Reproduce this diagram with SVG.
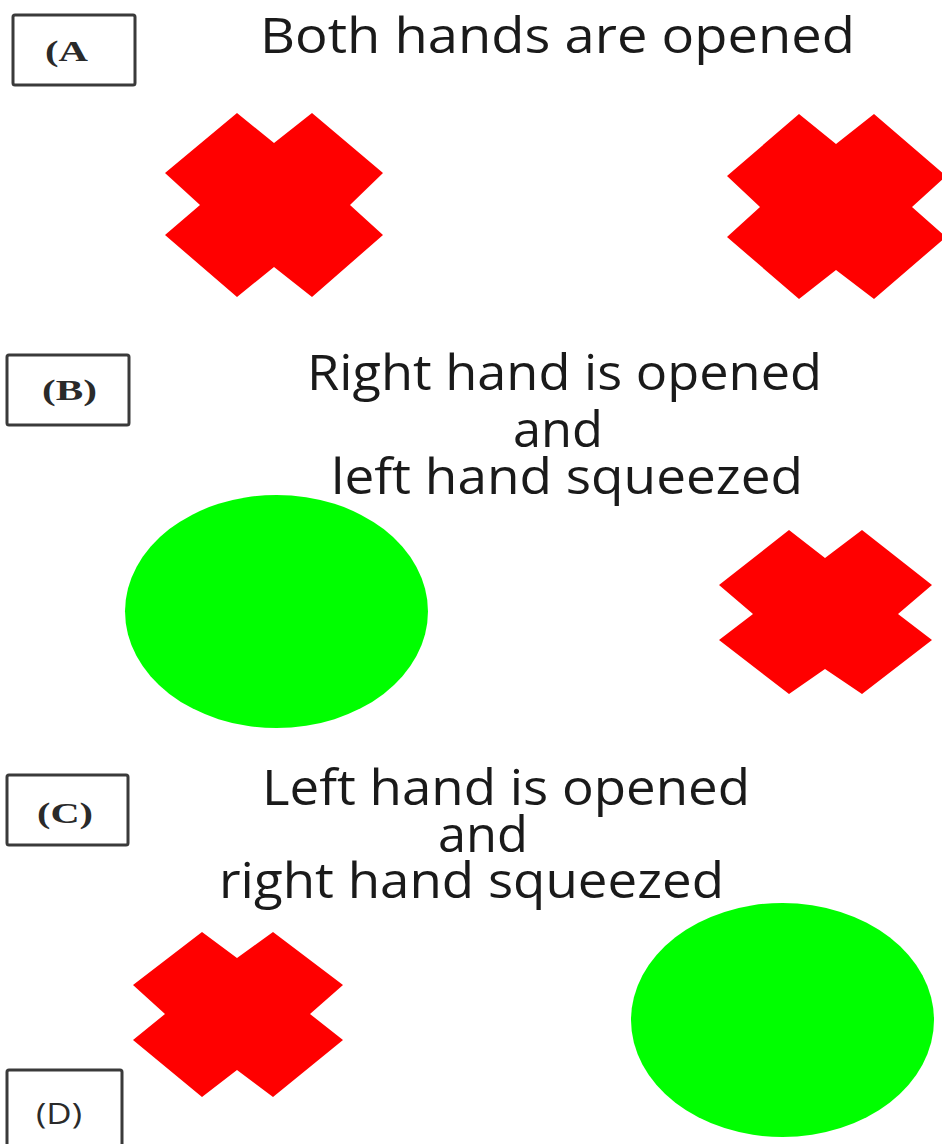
<svg xmlns="http://www.w3.org/2000/svg" width="942" height="1144" viewBox="0 0 942 1144">
  <style>
    .tag { fill: #ffffff; stroke: #3a3a3a; stroke-width: 3; }
    .tagtxt { font-family: "Liberation Serif", serif; font-weight: bold; font-size: 29px; fill: #2a2a2a; }
    .tagsans { font-family: "Open Sans", "Liberation Sans", sans-serif; font-size: 30px; fill: #2a2a2a; }
    .caption { font-family: "Open Sans", "Liberation Sans", sans-serif; font-size: 50px; font-weight: 500; fill: #1a1a1a; }
    .opened { fill: #ff0000; }
    .squeezed { fill: #00ff00; }
  </style>
  <rect width="942" height="1144" fill="#ffffff"/>

  <!-- Panel A: both hands open -->
  <g id="label-a">
    <rect class="tag" x="13" y="15" width="122" height="70" rx="2"/>
    <text class="tagtxt" x="45" y="61" textLength="43" lengthAdjust="spacingAndGlyphs">(A</text>
  </g>
  <g id="title-a">
    <text class="caption" x="260" y="53" textLength="595" lengthAdjust="spacingAndGlyphs">Both hands are opened</text>
  </g>
  <g id="left-hand-a">
    <polygon class="opened" points="237,113 274,143 312,113 383,173 350,205 383,235 312,297 274,267 237,297 165,235 200,205 165,173"/>
  </g>
  <g id="right-hand-a">
    <polygon class="opened" points="799,114 836,144 874,114 946,176 912,207 946,237 874,299 836,270 799,299 727,237 760,207 727,176"/>
  </g>

  <!-- Panel B: right open, left squeezed -->
  <g id="label-b">
    <rect class="tag" x="7" y="355" width="122" height="70" rx="2"/>
    <text class="tagtxt" x="42" y="400" textLength="55" lengthAdjust="spacingAndGlyphs">(B)</text>
  </g>
  <g id="title-b">
    <text class="caption" x="307" y="390" textLength="515" lengthAdjust="spacingAndGlyphs">Right hand is opened</text>
    <text class="caption" x="513" y="447" textLength="90" lengthAdjust="spacingAndGlyphs">and</text>
    <text class="caption" x="331" y="494" textLength="472" lengthAdjust="spacingAndGlyphs">left hand squeezed</text>
  </g>
  <g id="left-hand-b">
    <ellipse class="squeezed" cx="276.5" cy="611.5" rx="151.5" ry="116.5"/>
  </g>
  <g id="right-hand-b">
    <polygon class="opened" points="789,530 825,558 862,530 932,585 898,614 932,640 862,694 825,669 789,694 719,640 753,614 719,585"/>
  </g>

  <!-- Panel C: left open, right squeezed -->
  <g id="label-c">
    <rect class="tag" x="7" y="775" width="121" height="70" rx="2"/>
    <text class="tagtxt" x="37" y="823" textLength="56" lengthAdjust="spacingAndGlyphs">(C)</text>
  </g>
  <g id="title-c">
    <text class="caption" x="262" y="805" textLength="488" lengthAdjust="spacingAndGlyphs">Left hand is opened</text>
    <text class="caption" x="438" y="852" textLength="90" lengthAdjust="spacingAndGlyphs">and</text>
    <text class="caption" x="219" y="898" textLength="505" lengthAdjust="spacingAndGlyphs">right hand squeezed</text>
  </g>
  <g id="left-hand-c">
    <polygon class="opened" points="202,932 237,958 273,932 343,985 310,1014 343,1040 273,1097 237,1070 202,1097 133,1040 165,1014 133,985"/>
  </g>
  <g id="right-hand-c">
    <ellipse class="squeezed" cx="782.5" cy="1020" rx="151.5" ry="117"/>
  </g>

  <!-- Panel D tag -->
  <g id="label-d">
    <rect class="tag" x="7" y="1070" width="115" height="76" rx="2"/>
    <text class="tagsans" x="36" y="1124" textLength="46" lengthAdjust="spacingAndGlyphs">(D)</text>
  </g>

  <g id="connectors"/>
</svg>
